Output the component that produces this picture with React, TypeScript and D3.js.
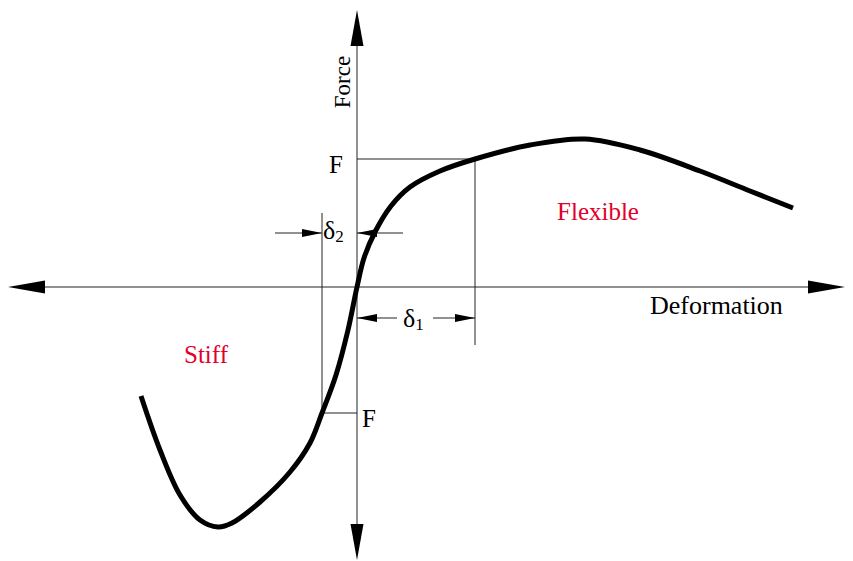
import React from "react";
import * as d3 from "d3";

// Force–deformation curve (deformation, force) in arbitrary units
const curveDeformation = [-21.6, -19.7, -17.7, -15.7, -13.9, -12.5, -9.7, -6.7, -4.7, -3.5, -2.1, -0.9, 0, 0.7, 1.8, 3.4, 5.3, 8.3, 11.8, 17.3, 22.8, 28.3, 34.3, 39.3, 43.6];
const curveForce = [-10.9, -16.3, -20.8, -23.3, -24.0, -23.6, -21.5, -18.5, -15.6, -12.6, -8.8, -4.3, 0, 2.9, 5.5, 8.1, 10.0, 11.6, 12.8, 14.2, 14.8, 13.7, 11.6, 9.6, 7.9];

// annotation values
const forceF = 12.8;
const forceNegF = -12.6;
const delta1 = 11.8;
const delta2 = -3.5;

const xDomain = [-34.9, 48.8];
const yDomain = [-27.3, 27.7];

const labels = {
  yAxis: "Force",
  xAxis: "Deformation",
  flexible: "Flexible",
  stiff: "Stiff",
  f: "F",
};

const W = 853;
const H = 561;
const RED = "#e3002b";
const FONT = "'Liberation Serif', 'Times New Roman', serif";

function arrowHead(tipX: number, tipY: number, dx: number, dy: number, len: number, half: number) {
  const bx = tipX - dx * len;
  const by = tipY - dy * len;
  const px = -dy, py = dx;
  return `M${tipX},${tipY} L${bx + px * half},${by + py * half} L${bx - px * half},${by - py * half} Z`;
}

export default function App() {
  const x = d3.scaleLinear().domain(xDomain).range([8, 845]);
  const y = d3.scaleLinear().domain(yDomain).range([560, 10]);
  const pts: [number, number][] = curveDeformation.map((d, i) => [d, curveForce[i]]);
  const line = d3
    .line<[number, number]>()
    .x((d) => x(d[0]))
    .y((d) => y(d[1]))
    .curve(d3.curveCatmullRom.alpha(0.5));

  const x0 = x(0);
  const y0 = y(0);
  const xMin = x(xDomain[0]);
  const xMax = x(xDomain[1]);
  const yTop = y(yDomain[1]);
  const yBot = y(yDomain[0]);

  const xF = x(delta1);
  const yF = y(forceF);
  const xD2 = x(delta2);
  const yNF = y(forceNegF);

  const yD2 = 233;
  const yD1 = 318;

  const thin = { stroke: "#222", strokeWidth: 1, fill: "none" };

  return (
    <svg width={W} height={H} style={{ position: "absolute", left: 0, top: 0, background: "#fff" }}>
      {/* axes */}
      <line x1={xMin + 30} y1={y0} x2={xMax - 30} y2={y0} {...thin} />
      <line x1={x0} y1={yTop + 30} x2={x0} y2={yBot - 30} {...thin} />
      <path d={arrowHead(xMin, y0, -1, 0, 37, 6.5)} fill="#000" />
      <path d={arrowHead(xMax, y0, 1, 0, 37, 6.5)} fill="#000" />
      <path d={arrowHead(x0, yTop, 0, -1, 36, 6.5)} fill="#000" />
      <path d={arrowHead(x0, yBot, 0, 1, 36, 6.5)} fill="#000" />

      {/* F guide lines */}
      <line x1={x0} y1={yF} x2={xF} y2={yF} {...thin} />
      <line x1={xF} y1={yF} x2={xF} y2={345} {...thin} />
      <line x1={xD2} y1={yNF} x2={x0} y2={yNF} {...thin} />
      <line x1={xD2} y1={yNF} x2={xD2} y2={213} {...thin} />

      {/* delta2 dimension */}
      <line x1={275} y1={yD2} x2={xD2} y2={yD2} {...thin} />
      <path d={arrowHead(xD2, yD2, 1, 0, 20, 4)} fill="#000" />
      <line x1={x0} y1={yD2} x2={403} y2={yD2} {...thin} />
      <path d={arrowHead(x0, yD2, -1, 0, 20, 4)} fill="#000" />
      <text x={323} y={239} fontFamily={FONT} fontSize={26} fill="#000">
        δ<tspan fontSize={17} dy={3}>2</tspan>
      </text>

      {/* delta1 dimension */}
      <line x1={x0} y1={yD1} x2={397} y2={yD1} {...thin} />
      <path d={arrowHead(x0, yD1, -1, 0, 20, 4)} fill="#000" />
      <line x1={433} y1={yD1} x2={xF} y2={yD1} {...thin} />
      <path d={arrowHead(xF, yD1, 1, 0, 20, 4)} fill="#000" />
      <text x={403} y={327} fontFamily={FONT} fontSize={26} fill="#000">
        δ<tspan fontSize={17} dy={3}>1</tspan>
      </text>

      {/* curve */}
      <path d={line(pts) || ""} fill="none" stroke="#000" strokeWidth={5} strokeLinejoin="round" />

      {/* labels */}
      <text transform={`translate(350,82) rotate(-90)`} textAnchor="middle" fontFamily={FONT} fontSize={23} fill="#000">
        {labels.yAxis}
      </text>
      <text x={650} y={314} fontFamily={FONT} fontSize={26} fill="#000">
        {labels.xAxis}
      </text>
      <text x={329} y={173} fontFamily={FONT} fontSize={25} fill="#000">
        {labels.f}
      </text>
      <text x={362} y={427} fontFamily={FONT} fontSize={25} fill="#000">
        {labels.f}
      </text>
      <text x={598} y={220} textAnchor="middle" fontFamily={FONT} fontSize={25} fill={RED}>
        {labels.flexible}
      </text>
      <text x={206} y={363} textAnchor="middle" fontFamily={FONT} fontSize={25} fill={RED}>
        {labels.stiff}
      </text>
    </svg>
  );
}
